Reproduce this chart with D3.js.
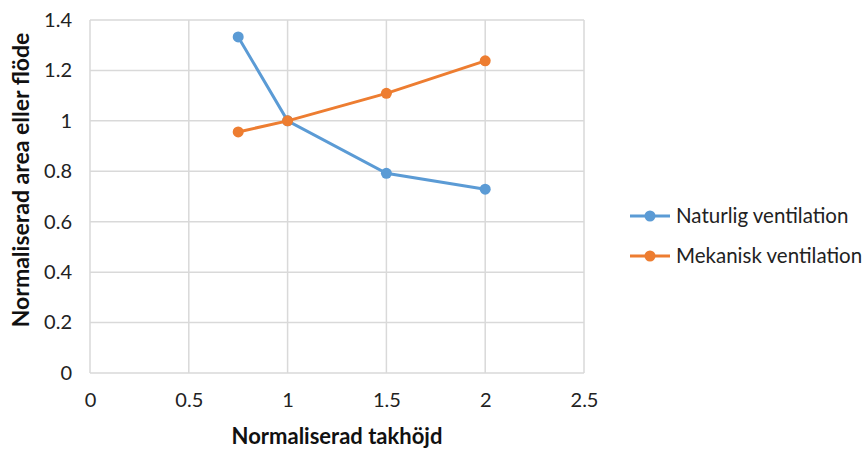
<!DOCTYPE html>
<html>
<head>
<meta charset="utf-8">
<script src="https://cdn.jsdelivr.net/npm/d3@7"></script>
<style>
  html, body { margin: 0; padding: 0; background: #fff; }
  svg { display: block; font-family: Lato, "Open Sans", sans-serif; }
</style>
</head>
<body>
<svg id="chart" width="867" height="450"></svg>
<script>
// Normalised ceiling height on the x axis
const heights = [0.75, 1, 1.5, 2];
// Normalised area / flow for each ventilation type
const naturligValues = [1.333, 1.0, 0.792, 0.729];
const mekaniskValues = [0.956, 1.0, 1.109, 1.238];
const seriesNames = ["Naturlig ventilation", "Mekanisk ventilation"];
const seriesColors = ["#5B9BD5", "#ED7D31"];
const xTicks = [0, 0.5, 1, 1.5, 2, 2.5];
const yTicks = [0, 0.2, 0.4, 0.6, 0.8, 1, 1.2, 1.4];

const svg = d3.select("#chart");
const plot = { left: 90, right: 584, top: 20, bottom: 373 };

const x = d3.scaleLinear().domain([0, 2.5]).range([plot.left, plot.right]);
const y = d3.scaleLinear().domain([0, 1.4]).range([plot.bottom, plot.top]);

// gridlines
const grid = svg.append("g").attr("stroke", "#d9d9d9").attr("stroke-width", 1.5);
xTicks.forEach(t => grid.append("line")
  .attr("x1", x(t)).attr("x2", x(t)).attr("y1", plot.top).attr("y2", plot.bottom));
yTicks.forEach(t => grid.append("line")
  .attr("x1", plot.left).attr("x2", plot.right).attr("y1", y(t)).attr("y2", y(t)));

// axes (labels only, lines come from the grid)
const fmt = d => String(d);
const xAxis = svg.append("g")
  .attr("transform", `translate(0,${plot.bottom})`)
  .call(d3.axisBottom(x).tickValues(xTicks).tickFormat(fmt).tickSize(0).tickPadding(20));
const yAxis = svg.append("g")
  .attr("transform", `translate(${plot.left},0)`)
  .call(d3.axisLeft(y).tickValues(yTicks).tickFormat(fmt).tickSize(0).tickPadding(18));
[xAxis, yAxis].forEach(a => {
  a.select(".domain").remove();
  a.selectAll("text").attr("font-size", 20).attr("fill", "#222")
    .attr("font-family", "Lato, 'Open Sans', sans-serif");
});

// axis titles
svg.append("text")
  .attr("x", 337).attr("y", 444)
  .attr("text-anchor", "middle").attr("font-size", 22).attr("font-weight", "bold")
  .attr("fill", "#111").text("Normaliserad takhöjd");
svg.append("text")
  .attr("transform", "translate(29,180) rotate(-90)")
  .attr("text-anchor", "middle").attr("font-size", 23).attr("font-weight", "bold")
  .attr("fill", "#111").text("Normaliserad area eller flöde");

// series
const series = [naturligValues, mekaniskValues];
const line = d3.line().x((d, i) => x(heights[i])).y(d => y(d));
series.forEach((vals, s) => {
  svg.append("path").datum(vals)
    .attr("d", line).attr("fill", "none")
    .attr("stroke", seriesColors[s]).attr("stroke-width", 3);
  svg.append("g").selectAll("circle").data(vals).join("circle")
    .attr("cx", (d, i) => x(heights[i])).attr("cy", d => y(d))
    .attr("r", 5.5).attr("fill", seriesColors[s]);
});

// legend
const legend = svg.append("g").attr("transform", "translate(630,216)");
seriesNames.forEach((name, i) => {
  const g = legend.append("g").attr("transform", `translate(0,${i * 40})`);
  g.append("line").attr("x1", 0).attr("x2", 40).attr("y1", 0).attr("y2", 0)
    .attr("stroke", seriesColors[i]).attr("stroke-width", 3);
  g.append("circle").attr("cx", 20).attr("cy", 0).attr("r", 5.5).attr("fill", seriesColors[i]);
  g.append("text").attr("x", 46).attr("y", 0).attr("dy", "0.35em")
    .attr("font-size", 20.5).attr("fill", "#222").text(name);
});
</script>
</body>
</html>
